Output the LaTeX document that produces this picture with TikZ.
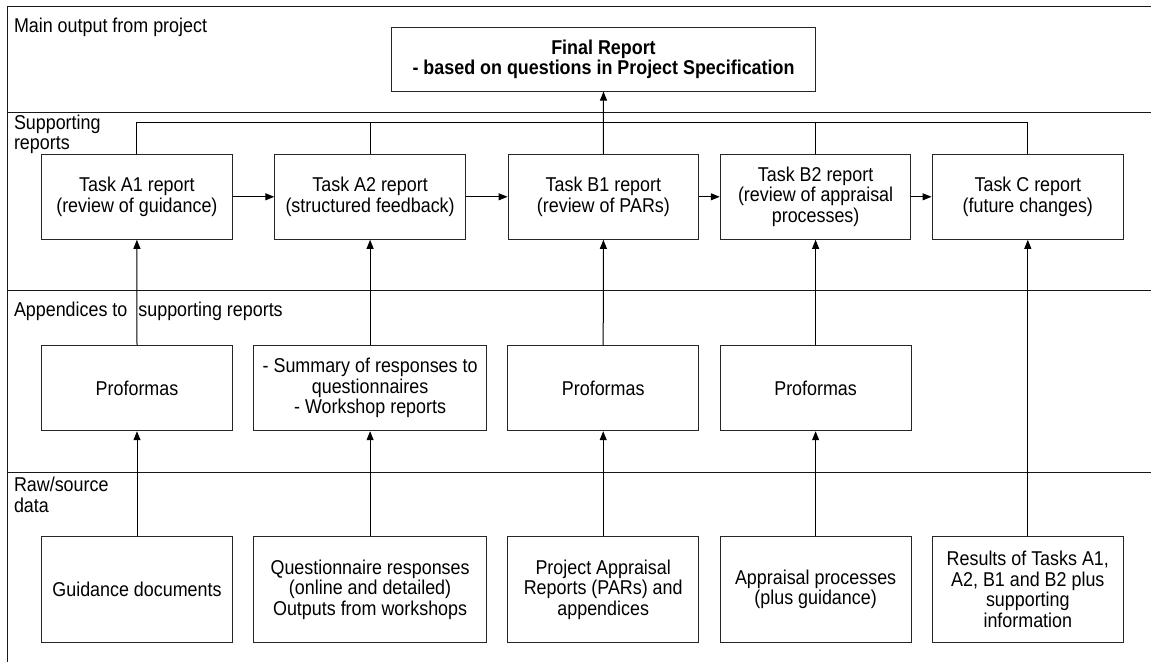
\documentclass[tikz,border=0pt]{standalone}
\usepackage{fontspec}
\setmainfont{Liberation Sans}[FakeStretch=0.895]
\usetikzlibrary{arrows.meta}
\begin{document}
\begin{tikzpicture}[x=1pt,y=-1pt,
  every node/.style={font=\fontsize{20}{20.6}\selectfont},
  box/.style={draw=black!85,line width=1pt,inner sep=0pt,align=center,minimum height=85pt},
  lowbox/.style={box,minimum height=105.6pt},
  lbl/.style={inner sep=0pt,anchor=west,align=left},
  frame/.style={line width=1pt,black!90},
  conn/.style={line width=1pt},
  arr/.style={conn,-{Triangle[width=7pt,length=9pt]}}]
\useasboundingbox (0,0) rectangle (1151,662);
% frame
\draw[frame] (1151,6) -- (7,6) -- (7,662);
\draw[frame] (7,112.7) -- (1151,112.7);
\draw[frame] (7,290.7) -- (1151,290.7);
\draw[frame] (7,472.7) -- (1151,472.7);
% row labels
\node[lbl] (l1) at (13.8,27.5) {Main output from project};
\node[lbl] (l2) at (13.8,134.5) {Supporting\\reports};
\node[lbl] (l3) at (13.8,311.8) {Appendices to\hspace{11pt}supporting reports};
\node[lbl] (l4) at (13.8,494.8) {Raw/source\\data};
% final report
\node[box,minimum width=424pt,minimum height=63.7pt,font=\fontsize{20}{20.6}\selectfont\bfseries] (F) at (603.5,59.2) {Final Report\\- based on questions in Project Specification};
% supporting reports
\node[box,minimum width=190.5pt] (A1) at (136.9,196.8) {Task A1 report\\(review of guidance)};
\node[box,minimum width=190.6pt] (A2) at (370.1,196.8) {Task A2 report\\(structured feedback)};
\node[box,minimum width=190.7pt] (B1) at (603.4,196.8) {Task B1 report\\(review of PARs)};
\node[box,minimum width=190.7pt] (B2) at (815.6,196.8) {Task B2 report\\(review of appraisal\\processes)};
\node[box,minimum width=191.5pt] (C) at (1027.8,196.8) {Task C report\\(future changes)};
% appendices
\node[box,minimum width=191pt] (P1) at (137,388.2) {Proformas};
\node[box,minimum width=233.3pt] (P2) at (370.1,388.2) {- Summary of responses to\\questionnaires\\- Workshop reports};
\node[box,minimum width=191.4pt] (P3) at (603.2,388.2) {Proformas};
\node[box,minimum width=190.8pt] (P4) at (815.6,388.2) {Proformas};
% raw data
\node[lowbox,minimum width=191pt] (G) at (137,589.5) {Guidance documents};
\node[lowbox,minimum width=233.3pt] (Q) at (370.1,589.5) {Questionnaire responses\\(online and detailed)\\Outputs from workshops};
\node[lowbox,minimum width=191.4pt] (PAR) at (603.2,589.5) {Project Appraisal\\Reports (PARs) and\\appendices};
\node[lowbox,minimum width=190.8pt] (AP) at (815.6,589.5) {Appraisal processes\\(plus guidance)};
\node[lowbox,minimum width=191.5pt] (R) at (1027.8,589.5) {Results of Tasks A1,\\A2, B1 and B2 plus\\supporting\\information};
% bus
\coordinate (bus) at (0,122.7);
\draw[conn] (A1.north) -- (A1.north |- bus) -- (C.north |- bus) -- (C.north);
\draw[conn] (A2.north) -- (A2.north |- bus);
\draw[conn] (B2.north) -- (B2.north |- bus);
\draw[arr] (B1.north) -- (F.south);
% horizontal chain
\draw[arr] (A1.east) -- (A2.west);
\draw[arr] (A2.east) -- (B1.west);
\draw[arr] (B1.east) -- (B2.west);
\draw[arr] (B2.east) -- (C.west);
% appendices to reports
\draw[arr] (P1.north) -- (A1.south);
\draw[arr] (P2.north) -- (A2.south);
\draw[arr] (P3.north) -- (B1.south);
\draw[arr] (P4.north) -- (B2.south);
% raw to appendices
\draw[arr] (G.north) -- (P1.south);
\draw[arr] (Q.north) -- (P2.south);
\draw[arr] (PAR.north) -- (P3.south);
\draw[arr] (AP.north) -- (P4.south);
\draw[arr] (R.north) -- (C.south);
\end{tikzpicture}
\end{document}
